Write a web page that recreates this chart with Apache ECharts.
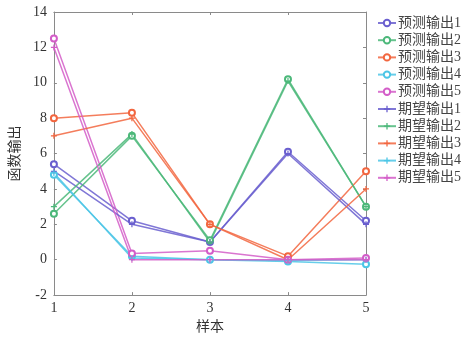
<!DOCTYPE html>
<html><head><meta charset="utf-8">
<script src="https://cdn.jsdelivr.net/npm/echarts@6/dist/echarts.min.js"></script>
<style>html,body{margin:0;padding:0;background:#fff}#c{width:463px;height:339px}</style>
</head><body><div id="c"></div>
<script>
const samples = [1, 2, 3, 4, 5];
const pred1 = [5.4, 2.2, 1.0, 6.1, 2.2];
const pred2 = [2.6, 7.0, 1.1, 10.2, 3.0];
const pred3 = [8.0, 8.3, 2.0, 0.2, 5.0];
const pred4 = [4.8, 0.2, 0.0, -0.1, -0.25];
const pred5 = [12.5, 0.35, 0.5, 0.0, 0.1];
const exp1 = [5.0, 2.0, 1.0, 6.0, 2.0];
const exp2 = [3.0, 7.1, 1.0, 10.1, 3.0];
const exp3 = [7.0, 8.0, 2.0, 0.0, 4.0];
const exp4 = [4.9, 0.1, 0.0, -0.05, 0.0];
const exp5 = [12.0, 0.0, 0.0, 0.0, 0.0];
const names = ['预测输出1','预测输出2','预测输出3','预测输出4','预测输出5','期望输出1','期望输出2','期望输出3','期望输出4','期望输出5'];
const colors = ['#6a5fcf','#4cb87a','#f2663f','#4cc6e6','#d35dc8'];
const yTicks = [-2, 0, 2, 4, 6, 8, 10, 12, 14];
const xTicks = [1, 2, 3, 4, 5];

const allData = [pred1,pred2,pred3,pred4,pred5,exp1,exp2,exp3,exp4,exp5];
const font = '"Liberation Serif","Noto Sans CJK SC",serif';
const plus = 'path://M3.2,0H4.8V3.2H8V4.8H4.8V8H3.2V4.8H0V3.2H3.2Z';
const series = allData.map((d,i)=>({
  name: names[i], type:'line',
  data: d.map((v,j)=>[samples[j], v]),
  symbol: i<5 ? 'emptyCircle' : plus,
  symbolSize: 6,
  lineStyle:{width:1.5, color: colors[i%5], opacity:0.85},
  itemStyle:{color: colors[i%5], borderWidth:1.1},
  color: colors[i%5]
}));
const chart = echarts.init(document.getElementById('c'));
const axisLine = {show:true, onZero:false, lineStyle:{color:'#8a8a8a', width:1}};
const tick = {show:true, inside:true, length:3, lineStyle:{color:'#8a8a8a'}};
chart.setOption({
  animation:false,
  textStyle:{fontFamily:font},
  grid:{left:52, right:97, top:12, bottom:42},
  legend:{
    orient:'vertical', left:372, top:11, itemGap:3.2, itemWidth:18, itemHeight:8,
    textStyle:{fontFamily:font, fontSize:14, color:'#444', padding:[0,0,0,-3]},
    data:names
  },
  xAxis:[{
    type:'value', min:1, max:5, interval:1,
    name:'样本', nameLocation:'middle', nameGap:21,
    nameTextStyle:{fontFamily:font, fontSize:14, color:'#333'},
    axisLine, axisTick:tick,
    axisLabel:{fontFamily:font, fontSize:14, color:'#333', margin:6},
    splitLine:{show:false}
  },{
    type:'value', min:1, max:5, interval:1, position:'top',
    axisLine, axisTick:tick,
    axisLabel:{show:false}, splitLine:{show:false}
  }],
  yAxis:[{
    type:'value', min:-2, max:14, interval:2,
    name:'函数输出', nameLocation:'middle', nameGap:30, nameRotate:90,
    nameTextStyle:{fontFamily:font, fontSize:14, color:'#333'},
    axisLine, axisTick:tick,
    axisLabel:{fontFamily:font, fontSize:14, color:'#333', margin:7},
    splitLine:{show:false}
  },{
    type:'value', min:-2, max:14, interval:2, position:'right',
    axisLine, axisTick:tick,
    axisLabel:{show:false}, splitLine:{show:false}
  }],
  series
});
</script></body></html>
